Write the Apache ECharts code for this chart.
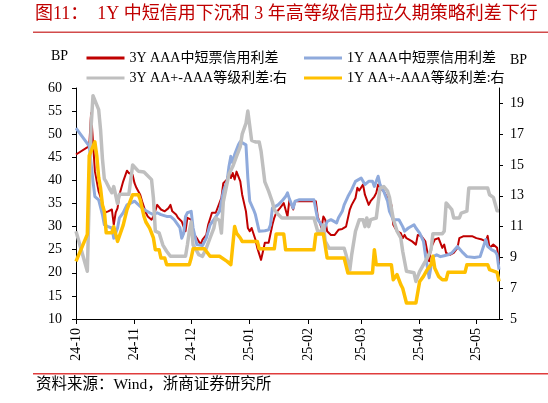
<!DOCTYPE html>
<html>
<head>
<meta charset="utf-8">
<script src="https://cdn.jsdelivr.net/npm/echarts@6/dist/echarts.min.js"></script>
<style>
html,body{margin:0;padding:0;background:#fff;}
#chart{width:548px;height:403px;}
</style>
</head>
<body>
<div id="chart"></div>
<script>
// ---- data ----
const seriesNames = ['3Y AAA中短票信用利差', '1Y AAA中短票信用利差', '3Y AA+-AAA等级利差:右', '1Y AA+-AAA等级利差:右'];
const monthTicks = ['2024-10-01','2024-11-01','2024-12-01','2025-01-01','2025-02-01','2025-03-01','2025-04-01','2025-05-01'];
const xStart = '2024-10-01';
const xEnd = '2025-05-13';

const red3Y = [
['2024-10-01',45.6],['2024-10-08',47.4],['2024-10-09',54.6],['2024-10-10',55.0],['2024-10-11',42.0],['2024-10-12',39.8],
['2024-10-13',37.6],['2024-10-15',35.1],['2024-10-16',33.0],['2024-10-18',33.3],['2024-10-20',33.7],['2024-10-21',30.4],
['2024-10-22',33.0],['2024-10-23',34.0],['2024-10-24',36.9],['2024-10-26',39.8],['2024-10-28',42.1],['2024-10-29',41.6],
['2024-10-31',41.2],['2024-11-01',39.4],['2024-11-02',38.4],['2024-11-04',36.9],['2024-11-05',35.5],['2024-11-07',33.0],
['2024-11-08',32.2],['2024-11-10',31.5],['2024-11-11',32.2],['2024-11-13',34.7],['2024-11-15',33.7],['2024-11-17',33.3],
['2024-11-19',34.0],['2024-11-20',34.7],['2024-11-21',33.3],['2024-11-23',32.6],['2024-11-24',31.9],['2024-11-26',31.1],
['2024-11-27',30.0],['2024-11-28',29.0],['2024-11-29',31.9],['2024-12-01',31.5],['2024-12-02',28.6],['2024-12-04',27.5],
['2024-12-06',26.1],['2024-12-07',27.2],['2024-12-09',28.2],['2024-12-10',30.4],['2024-12-12',33.0],['2024-12-14',33.0],
['2024-12-15',32.6],['2024-12-17',36.2],['2024-12-18',39.4],['2024-12-20',40.2],['2024-12-21',41.9],['2024-12-22',40.5],
['2024-12-23',41.6],['2024-12-24',40.2],['2024-12-25',41.9],['2024-12-27',39.8],['2024-12-28',36.9],['2024-12-30',33.3],
['2024-12-31',29.7],['2025-01-01',29.0],['2025-01-02',29.7],['2025-01-04',27.2],['2025-01-05',25.4],['2025-01-07',22.8],
['2025-01-08',24.6],['2025-01-09',26.5],['2025-01-11',26.5],['2025-01-13',30.4],['2025-01-14',31.9],['2025-01-15',33.0],
['2025-01-17',34.0],['2025-01-19',35.1],['2025-01-20',35.1],['2025-01-21',32.2],['2025-01-22',35.8],['2025-01-24',33.7],
['2025-01-25',35.5],['2025-02-05',35.5],['2025-02-06',32.2],['2025-02-08',29.7],['2025-02-09',32.2],['2025-02-10',31.5],
['2025-02-11',29.0],['2025-02-13',28.2],['2025-02-15',28.2],['2025-02-17',29.3],['2025-02-19',29.5],['2025-02-21',30.0],
['2025-02-23',33.7],['2025-02-24',34.7],['2025-02-26',36.2],['2025-02-27',38.4],['2025-02-28',37.8],['2025-03-02',39.1],
['2025-03-03',36.9],['2025-03-05',34.7],['2025-03-06',35.5],['2025-03-08',36.5],['2025-03-09',37.3],['2025-03-10',39.1],
['2025-03-11',38.4],['2025-03-13',37.6],['2025-03-15',36.2],['2025-03-17',34.7],['2025-03-18',30.4],['2025-03-20',29.0],
['2025-03-22',28.6],['2025-03-23',27.5],['2025-03-24',28.2],['2025-03-25',27.5],['2025-03-26',27.2],['2025-03-28',26.8],
['2025-03-30',26.1],['2025-03-31',28.2],['2025-04-02',27.9],['2025-04-04',26.8],['2025-04-05',24.6],['2025-04-06',22.5],
['2025-04-07',25.4],['2025-04-09',27.2],['2025-04-11',27.5],['2025-04-12',27.2],['2025-04-13',25.4],['2025-04-14',26.1],
['2025-04-15',24.3],['2025-04-17',23.9],['2025-04-19',24.3],['2025-04-21',25.4],['2025-04-22',27.5],['2025-04-24',27.9],
['2025-04-26',27.9],['2025-04-27',28.2],['2025-04-29',27.9],['2025-05-01',27.5],['2025-05-04',27.2],['2025-05-06',26.8],
['2025-05-07',28.0],['2025-05-08',25.4],['2025-05-09',25.0],['2025-05-10',26.1],['2025-05-12',25.4],['2025-05-13',22.3]
];

const blue1Y = [
['2024-10-01',51.3],['2024-10-08',47.4],['2024-10-09',47.2],['2024-10-10',39.8],['2024-10-11',36.5],['2024-10-13',35.8],
['2024-10-15',32.6],['2024-10-16',30.4],['2024-10-18',30.0],['2024-10-20',29.7],['2024-10-21',27.5],['2024-10-23',29.7],
['2024-10-24',31.9],['2024-10-26',33.0],['2024-10-28',34.7],['2024-10-30',35.1],['2024-11-01',35.5],['2024-11-02',35.1],
['2024-11-04',34.4],['2024-11-06',33.7],['2024-11-07',33.3],['2024-11-09',33.0],['2024-11-11',32.6],['2024-11-13',33.0],
['2024-11-15',32.6],['2024-11-16',32.2],['2024-11-18',32.2],['2024-11-20',32.2],['2024-11-22',31.5],['2024-11-23',31.1],
['2024-11-25',29.8],['2024-11-26',27.5],['2024-11-27',28.5],['2024-11-28',32.2],['2024-11-29',33.0],['2024-12-01',33.3],
['2024-12-02',29.7],['2024-12-04',26.1],['2024-12-05',25.7],['2024-12-07',25.9],['2024-12-09',27.5],['2024-12-11',30.4],
['2024-12-13',31.5],['2024-12-14',31.7],['2024-12-16',33.3],['2024-12-18',37.6],['2024-12-20',39.8],['2024-12-21',43.0],
['2024-12-22',45.2],['2024-12-23',43.8],['2024-12-24',45.6],['2024-12-26',47.7],['2024-12-27',48.4],['2024-12-28',48.8],
['2024-12-30',47.7],['2024-12-31',40.5],['2025-01-01',35.5],['2025-01-03',33.7],['2025-01-04',32.6],['2025-01-06',29.0],
['2025-01-07',29.0],['2025-01-09',29.1],['2025-01-11',29.3],['2025-01-12',30.4],['2025-01-13',34.0],['2025-01-14',33.7],
['2025-01-16',34.7],['2025-01-18',35.5],['2025-01-20',36.5],['2025-01-21',37.3],['2025-01-22',36.0],['2025-01-24',34.0],
['2025-01-25',35.5],['2025-01-27',35.8],['2025-02-04',35.8],['2025-02-06',31.5],['2025-02-08',30.4],['2025-02-09',29.0],
['2025-02-11',31.1],['2025-02-13',31.5],['2025-02-16',30.8],['2025-02-17',31.9],['2025-02-19',33.3],['2025-02-20',34.7],
['2025-02-22',36.5],['2025-02-24',38.0],['2025-02-26',39.8],['2025-02-27',40.2],['2025-03-01',40.5],['2025-03-03',39.1],
['2025-03-05',39.8],['2025-03-07',39.8],['2025-03-08',38.7],['2025-03-10',40.9],['2025-03-11',39.1],['2025-03-13',37.6],
['2025-03-15',35.5],['2025-03-16',33.3],['2025-03-18',31.5],['2025-03-21',31.5],['2025-03-23',30.0],['2025-03-24',29.0],
['2025-03-26',29.7],['2025-03-29',30.4],['2025-03-30',29.7],['2025-04-01',28.6],['2025-04-03',26.8],['2025-04-04',23.9],
['2025-04-06',18.9],['2025-04-07',21.4],['2025-04-08',23.5],['2025-04-10',23.9],['2025-04-12',23.5],['2025-04-14',23.7],
['2025-04-16',23.9],['2025-04-18',24.3],['2025-04-21',25.7],['2025-04-22',25.4],['2025-04-24',24.3],['2025-04-26',23.5],
['2025-04-30',23.3],['2025-05-03',23.5],['2025-05-04',23.9],['2025-05-06',27.2],['2025-05-07',25.7],['2025-05-09',25.0],
['2025-05-11',24.6],['2025-05-12',23.9],['2025-05-13',20.7]
];

const gray3Y = [
['2024-10-01',10.7],['2024-10-07',8.1],['2024-10-09',17.5],['2024-10-10',19.5],['2024-10-11',19.4],['2024-10-13',18.6],
['2024-10-14',17.3],['2024-10-15',15.4],['2024-10-16',14.1],['2024-10-17',13.9],['2024-10-19',13.4],['2024-10-20',13.2],
['2024-10-21',13.6],['2024-10-22',13.5],['2024-10-23',12.5],['2024-10-24',13.1],['2024-10-29',13.1],['2024-10-31',15.0],
['2024-11-01',14.9],['2024-11-03',14.6],['2024-11-06',14.55],['2024-11-07',14.5],['2024-11-10',14.05],['2024-11-11',12.85],
['2024-11-12',10.7],['2024-11-14',10.6],['2024-11-15',10.6],['2024-11-16',9.8],['2024-11-18',9.4],['2024-11-20',9.07],
['2024-11-28',9.07],['2024-11-29',9.82],['2024-11-30',10.7],['2024-12-01',11.3],['2024-12-02',9.82],['2024-12-04',9.4],
['2024-12-05',9.18],['2024-12-07',9.07],['2024-12-09',9.6],['2024-12-11',10.26],['2024-12-13',10.9],['2024-12-14',11.56],
['2024-12-16',11.4],['2024-12-17',10.58],['2024-12-18',12.6],['2024-12-20',13.8],['2024-12-21',14.4],['2024-12-23',14.9],
['2024-12-25',15.56],['2024-12-27',16.2],['2024-12-28',17.0],['2024-12-30',17.7],['2024-12-31',18.5],['2025-01-01',18.6],
['2025-01-02',16.6],['2025-01-04',16.5],['2025-01-06',16.5],['2025-01-07',15.9],['2025-01-09',13.9],['2025-01-11',13.3],
['2025-01-13',12.6],['2025-01-14',12.1],['2025-01-16',11.8],['2025-01-18',11.56],['2025-02-04',11.56],['2025-02-06',10.7],
['2025-02-08',10.7],['2025-02-09',11.1],['2025-02-10',10.04],['2025-02-12',9.6],['2025-02-20',9.6],['2025-02-21',9.18],
['2025-02-23',8.2],['2025-02-24',9.18],['2025-02-26',10.7],['2025-02-28',11.45],['2025-03-02',11.45],['2025-03-03',11.0],
['2025-03-04',11.56],['2025-03-05',11.0],['2025-03-06',11.45],['2025-03-09',11.56],['2025-03-11',13.5],['2025-03-13',13.6],
['2025-03-15',13.3],['2025-03-16',12.9],['2025-03-18',11.5],['2025-03-19',11.1],['2025-03-20',10.7],['2025-03-22',10.26],
['2025-03-23',9.4],['2025-03-25',8.1],['2025-03-29',8.0],['2025-03-30',7.44],['2025-04-01',8.1],['2025-04-03',8.53],
['2025-04-05',8.96],['2025-04-07',9.5],['2025-04-08',10.54],['2025-04-13',10.54],['2025-04-14',10.7],['2025-04-15',12.53],
['2025-04-16',12.4],['2025-04-18',12.1],['2025-04-19',11.56],['2025-04-22',11.56],['2025-04-23',11.88],['2025-04-26',12.0],
['2025-04-27',13.5],['2025-05-07',13.5],['2025-05-08',13.07],['2025-05-10',12.9],['2025-05-12',12.03],['2025-05-13',12.03]
];

const yellow1Y = [
['2024-10-01',8.74],['2024-10-07',10.5],['2024-10-08',15.6],['2024-10-09',15.6],['2024-10-11',16.5],['2024-10-12',15.6],
['2024-10-13',14.2],['2024-10-14',13.5],['2024-10-15',12.4],['2024-10-16',12.0],['2024-10-17',10.6],['2024-10-20',10.6],
['2024-10-21',11.0],['2024-10-22',10.9],['2024-10-23',10.04],['2024-10-24',10.04],['2024-10-26',11.1],['2024-10-28',12.1],
['2024-10-29',12.1],['2024-10-31',13.07],['2024-11-03',13.07],['2024-11-04',12.75],['2024-11-06',11.66],['2024-11-07',11.3],
['2024-11-09',10.9],['2024-11-11',10.26],['2024-11-12',9.5],['2024-11-14',9.5],['2024-11-15',8.96],['2024-11-17',8.96],
['2024-11-18',8.53],['2024-11-30',8.53],['2024-12-01',8.96],['2024-12-02',9.56],['2024-12-08',9.56],['2024-12-09',9.5],
['2024-12-11',9.07],['2024-12-16',9.07],['2024-12-20',8.74],['2024-12-22',8.53],['2024-12-24',11.0],['2024-12-25',10.58],
['2024-12-27',10.26],['2024-12-28',10.04],['2025-01-05',10.04],['2025-01-06',9.56],['2025-01-14',9.56],['2025-01-15',10.52],
['2025-01-19',10.52],['2025-01-20',9.5],['2025-02-04',9.5],['2025-02-05',10.52],['2025-02-09',10.52],['2025-02-11',8.96],
['2025-02-20',8.96],['2025-02-22',7.99],['2025-03-07',7.99],['2025-03-08',9.5],['2025-03-09',8.53],['2025-03-17',8.53],
['2025-03-18',7.55],['2025-03-20',7.88],['2025-03-22',7.23],['2025-03-23',7.0],['2025-03-25',6.04],['2025-03-30',6.04],
['2025-04-01',7.44],['2025-04-03',7.77],['2025-04-05',8.2],['2025-04-07',8.53],['2025-04-08',9.07],['2025-04-09',8.3],
['2025-04-11',7.77],['2025-04-13',7.55],['2025-04-15',7.55],['2025-04-16',8.03],['2025-04-25',8.03],['2025-04-26',8.53],
['2025-05-07',8.53],['2025-05-08',8.2],['2025-05-12',8.03],['2025-05-13',7.44]
];

const rightTicks = [5,7,9,11,13,15,17,19];
const titleText = '图11：  1Y 中短信用下沉和 3 年高等级信用拉久期策略利差下行';
const sourceText = '资料来源：Wind，浙商证券研究所';

// ---- helpers ----
function toTime(s) { const p = s.split('-').map(Number); return new Date(p[0], p[1] - 1, p[2]).getTime(); }
function pts(arr) { return arr.map(d => [toTime(d[0]), d[1]]); }
function monthLabel(v) { const d = new Date(v); return String(d.getFullYear()).slice(2) + '-' + String(d.getMonth() + 1).padStart(2, '0'); }

const FONT = '"Liberation Serif", "Noto Sans CJK SC", serif';
const colors = ['#C00000', '#8FAADC', '#BFBFBF', '#FFC000'];
const widths = [2, 3, 3.5, 3.5];
const datasets = [red3Y, blue1Y, gray3Y, yellow1Y];
const yIdx = [0, 0, 1, 1];

const chart = echarts.init(document.getElementById('chart'), null, { renderer: 'canvas' });
const monthTs = monthTicks.map(toTime);

const legendCommon = {
  orient: 'vertical', top: 46, icon: 'rect',
  itemWidth: 38, itemHeight: 3, itemGap: 6,
  textStyle: { fontFamily: FONT, fontSize: 14, color: '#000' }
};

const option = {
  animation: false,
  backgroundColor: '#fff',
  textStyle: { fontFamily: FONT },
  grid: { left: 76, right: 49, top: 88, bottom: 84, containLabel: false },
  legend: [
    Object.assign({ data: [seriesNames[0], seriesNames[2]], left: 81.5 }, legendCommon),
    Object.assign({ data: [seriesNames[1], seriesNames[3]], left: 299 }, legendCommon)
  ],
  xAxis: {
    type: 'value',
    min: toTime(xStart), max: toTime(xEnd),
    axisLine: { lineStyle: { color: '#000', width: 1 } },
    axisTick: { show: true, length: 5, inside: false, lineStyle: { color: '#000' }, customValues: monthTs },
    axisLabel: {
      customValues: monthTs, rotate: 90, margin: 9, color: '#000', fontSize: 14, fontFamily: FONT,
      formatter: (v) => monthLabel(v), hideOverlap: false
    },
    splitLine: { show: false }
  },
  yAxis: [
    {
      type: 'value', min: 10, max: 60, interval: 5, position: 'left',
      axisLine: { show: true, lineStyle: { color: '#000' } },
      axisTick: { show: true, length: 4, lineStyle: { color: '#000' } },
      axisLabel: { color: '#000', fontSize: 14, fontFamily: FONT, margin: 14 },
      splitLine: { show: false }
    },
    {
      type: 'value', min: 5, max: 20, position: 'right',
      axisLine: { show: true, lineStyle: { color: '#000' } },
      axisTick: { show: true, length: 4, lineStyle: { color: '#000' }, customValues: rightTicks },
      axisLabel: { color: '#000', fontSize: 14, fontFamily: FONT, margin: 11, customValues: rightTicks },
      splitLine: { show: false }
    }
  ],
  series: datasets.map((d, i) => ({
    name: seriesNames[i],
    type: 'line',
    yAxisIndex: yIdx[i],
    data: pts(d),
    symbol: 'none',
    showSymbol: false,
    lineStyle: { color: colors[i], width: widths[i], join: 'round' },
    itemStyle: { color: colors[i] },
    z: 2 + i
  })),
  graphic: [
    { type: 'text', left: 35, top: 5, style: { text: titleText, font: '18px ' + FONT, fill: '#C00000' } },
    { type: 'rect', shape: { x: 33, y: 31.5, width: 515, height: 1.5 }, style: { fill: '#D24B4B' } },
    { type: 'rect', shape: { x: 33, y: 373, width: 515, height: 1.5 }, style: { fill: '#E03C3C' } },
    { type: 'text', left: 36, top: 377, style: { text: sourceText, font: '15.5px ' + FONT, fill: '#000' } },
    { type: 'text', left: 51, top: 49, style: { text: 'BP', font: '14px ' + FONT, fill: '#000' } },
    { type: 'text', left: 510, top: 53, style: { text: 'BP', font: '14px ' + FONT, fill: '#000' } }
  ]
};
chart.setOption(option);
</script>
</body>
</html>
